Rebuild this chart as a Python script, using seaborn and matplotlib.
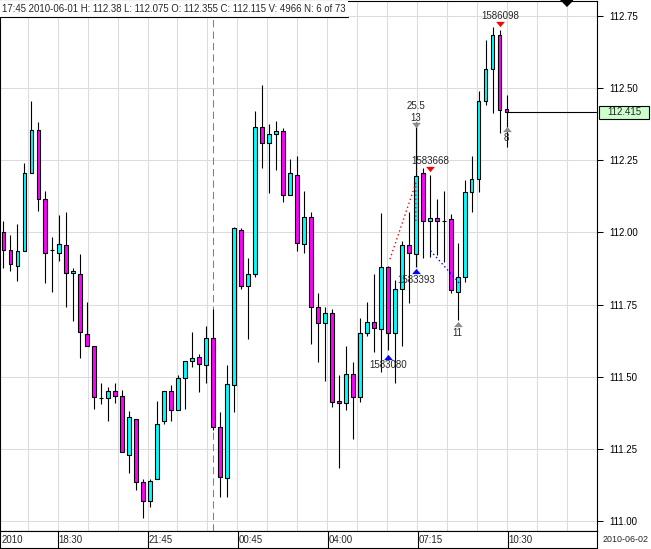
import numpy as np
import pandas as pd
import seaborn as sns
import matplotlib.pyplot as plt
from matplotlib.patches import Rectangle
import matplotlib.transforms as mtransforms

# 15 minute bars, 2010-06-01 16:30 -> 2010-06-02 10:30 (73 bars)
opens = [112.000, 111.938, 111.882, 111.934, 112.205, 112.355, 112.115, 111.937, 111.927, 111.955,
         111.858, 111.855, 111.649, 111.605, 111.426, 111.426, 111.450, 111.434, 111.228, 111.353,
         111.135, 111.069, 111.145, 111.346, 111.450, 111.384, 111.495, 111.553, 111.567, 111.540,
         111.633, 111.325, 111.149, 111.472, 112.007, 111.814, 111.856, 112.363, 112.309, 112.339,
         112.349, 112.128, 112.197, 111.958, 112.052, 111.740, 111.685, 111.720, 111.415, 111.408,
         111.509, 111.429, 111.650, 111.689, 111.667, 111.879, 111.653, 111.803, 111.957, 111.924,
         112.204, 112.039, 112.048, 112.039, 112.046, 111.792, 111.844, 112.138, 112.183, 112.454,
         112.564, 112.683, 112.425]
highs = [112.039, 111.991, 112.029, 112.240, 112.454, 112.380, 112.143, 111.984, 112.060, 112.069,
         111.875, 111.925, 111.759, 111.605, 111.479, 111.465, 111.479, 111.454, 111.383, 111.353,
         111.145, 111.145, 111.416, 111.450, 111.471, 111.506, 111.553, 111.655, 111.578, 111.676,
         111.733, 111.379, 111.541, 112.020, 112.014, 111.910, 112.420, 112.510, 112.375, 112.385,
         112.360, 112.252, 112.264, 112.143, 112.069, 111.789, 111.740, 111.734, 111.506, 111.607,
         111.550, 111.702, 111.758, 111.856, 112.066, 111.885, 111.835, 111.970, 112.070, 112.383,
         112.221, 112.198, 112.114, 112.143, 112.062, 111.964, 112.181, 112.265, 112.490, 112.665,
         112.712, 112.700, 112.475]
lows = [111.878, 111.866, 111.833, 111.934, 112.205, 112.075, 111.824, 111.792, 111.902, 111.743,
        111.694, 111.564, 111.605, 111.388, 111.406, 111.348, 111.408, 111.239, 111.168, 111.108,
        111.010, 111.048, 111.145, 111.336, 111.348, 111.384, 111.388, 111.533, 111.449, 111.477,
        111.316, 111.083, 111.085, 111.379, 111.803, 111.630, 111.844, 112.224, 112.137, 112.216,
        112.106, 112.128, 111.936, 111.927, 111.612, 111.552, 111.487, 111.394, 111.184, 111.385,
        111.284, 111.414, 111.642, 111.585, 111.518, 111.593, 111.477, 111.608, 111.754, 111.881,
        111.910, 111.916, 111.921, 111.898, 111.791, 111.697, 111.829, 112.071, 112.141, 112.440,
        112.412, 112.343, 112.296]
closes = [111.938, 111.889, 111.934, 112.205, 112.355, 112.115, 111.927, 111.937, 111.958, 111.858,
          111.866, 111.654, 111.605, 111.429, 111.426, 111.450, 111.434, 111.239, 111.360, 111.135,
          111.069, 111.138, 111.336, 111.450, 111.384, 111.495, 111.553, 111.564, 111.543, 111.633,
          111.325, 111.154, 111.474, 112.014, 111.814, 111.856, 112.365, 112.309, 112.339, 112.349,
          112.128, 112.204, 111.962, 112.052, 111.740, 111.685, 111.720, 111.414, 111.408, 111.509,
          111.429, 111.650, 111.689, 111.668, 111.879, 111.653, 111.803, 111.955, 111.927, 112.195,
          112.039, 112.048, 112.039, 112.039, 111.800, 111.844, 112.138, 112.184, 112.454, 112.564,
          112.683, 112.423, 112.415]

y_ticks = [111.00, 111.25, 111.50, 111.75, 112.00, 112.25, 112.50, 112.75]
time_labels = ["18:30", "21:45", "00:45", "04:00", "07:15", "10:30"]
day_break_bar = 30

# swing markers
red_top_bars = [61, 71]
red_top_prices = [112.219, 112.721]
red_top_labels = ["1583668", "1586098"]
blue_bot_bars = [55, 59]
blue_bot_prices = [111.570, 111.865]
blue_bot_labels = ["1583080", "1583393"]
gray_top_bars = [59]
gray_top_prices = [112.371]
gray_top_labels = [("13", "25.5")]
gray_bot_bars = [65, 72]
gray_bot_prices = [111.684, 112.358]
gray_bot_labels = ["11", "8"]
red_zz_x = [55.3, 59.0, 59.0]
red_zz_y = [111.907, 112.170, 112.032]
blue_zz_x = [61.1, 65.2]
blue_zz_y = [111.936, 111.825]

header = ("17:45 2010-06-01 H: 112.38 L: 112.075 O: 112.355 C: 112.115 "
          "V: 4966 N: 6 of 73")

sns.set_style("white")
plt.rcParams['font.family'] = ['Liberation Sans', 'DejaVu Sans']

W, H = 651, 549
fig = plt.figure(figsize=(W / 100, H / 100), dpi=100)
ax = fig.add_axes([0, 18 / H, 597 / W, 530 / H])
strip = fig.add_axes([0, 1 / H, 597 / W, 17 / H])

x = np.arange(len(opens))
o = np.array(opens)
c = np.array(closes)
xlim = (-0.471, 84.814)
ylim = (110.9664, 112.8003)

# grid every 30px, labels every 3rd gridline
grid_x = 3.486 + 30 / 7 * np.arange(20)
label_x = grid_x[1::3][:len(time_labels)]

ax.set_xlim(xlim)
ax.set_ylim(ylim)
ax.set_xticks(grid_x)
ax.tick_params(axis='x', length=0, labelbottom=False)
ax.yaxis.tick_right()
ax.set_yticks(y_ticks)
ax.set_yticklabels([f"{v:.2f}" for v in y_ticks])
ax.tick_params(axis='y', length=4.3, width=0.75, pad=4.3, labelsize=7, colors='black')
ax.grid(True, color='#dcdcdc', lw=0.75, zorder=0)
ax.set_axisbelow(True)
for s in ax.spines.values():
    s.set_color('black')
    s.set_linewidth(0.8)

ax.axvline(day_break_bar, color='#808080', lw=0.75, dashes=(7, 4), zorder=1.5)

# candles
body_colors = ['#00ffff' if cl >= op else '#ff00ff' for op, cl in zip(opens, closes)]
ax.vlines(x, lows, highs, color='black', lw=0.8, zorder=2)
ax.bar(x, np.abs(c - o), bottom=np.minimum(o, c), width=0.5, color=body_colors,
       edgecolor='black', linewidth=0.8, zorder=3)

# zigzag dotted lines
ax.plot(red_zz_x, red_zz_y, color='red', lw=1.0, ls=(0, (1, 2)), zorder=4)
ax.plot(blue_zz_x, blue_zz_y, color='blue', lw=1.0, ls=(0, (1, 2)), zorder=4)

down_tri = [(-1, 0.6), (1, 0.6), (0, -0.6)]
up_tri = [(-1, -0.6), (1, -0.6), (0, 0.6)]
sns.scatterplot(x=red_top_bars, y=red_top_prices, marker=down_tri, color='#ff0000',
                s=40, linewidth=0, ax=ax, zorder=5)
sns.scatterplot(x=blue_bot_bars, y=blue_bot_prices, marker=up_tri, color='#0000ff',
                s=40, linewidth=0, ax=ax, zorder=5)
sns.scatterplot(x=gray_top_bars, y=gray_top_prices, marker=down_tri, color='#8c8c8c',
                s=40, linewidth=0, ax=ax, zorder=5)
sns.scatterplot(x=gray_bot_bars, y=gray_bot_prices, marker=up_tri, color='#8c8c8c',
                s=40, linewidth=0, ax=ax, zorder=5)

fs = 7
for b, p, lab in zip(red_top_bars, red_top_prices, red_top_labels):
    ax.annotate(lab, (b, p), xytext=(0.5, 5.5), textcoords='offset points',
                ha='center', va='center', fontsize=fs, zorder=6)
for b, p, lab in zip(blue_bot_bars, blue_bot_prices, blue_bot_labels):
    ax.annotate(lab, (b, p), xytext=(0, -6.3), textcoords='offset points',
                ha='center', va='center', fontsize=fs, zorder=6)
for b, p, (l1, l2) in zip(gray_top_bars, gray_top_prices, gray_top_labels):
    ax.annotate(l1, (b, p), xytext=(0, 5.4), textcoords='offset points',
                ha='center', va='center', fontsize=fs, zorder=6)
    ax.annotate(l2, (b, p), xytext=(0, 14), textcoords='offset points',
                ha='center', va='center', fontsize=fs, zorder=6)
for b, p, lab in zip(gray_bot_bars, gray_bot_prices, gray_bot_labels):
    ax.annotate(lab, (b, p), xytext=(0, -6.5), textcoords='offset points',
                ha='center', va='center', fontsize=fs, zorder=6)

# last price line and tag
last = closes[-1]
ax.plot([x[-1], xlim[1]], [last, last], color='black', lw=0.8, zorder=4)
blend = mtransforms.blended_transform_factory(ax.transAxes, ax.transData)
px_y = (ylim[1] - ylim[0]) / 530
ax.add_patch(Rectangle((1 + 2 / 597, last - 6.5 * px_y), 50 / 597, 13 * px_y,
                       transform=blend, facecolor='#ccffcc', edgecolor='black',
                       lw=0.8, clip_on=False, zorder=6))
ax.text(1 + 27 / 597, last, f"{last:.3f}", transform=blend, ha='center', va='center',
        fontsize=fs, zorder=7, clip_on=False)

# current bar marker on top edge
top_blend = mtransforms.blended_transform_factory(ax.transData, ax.transAxes)
ax.plot([80.5], [1 - 2 / 530], marker=[(-1, 0.5), (1, 0.5), (0, -0.5)], markersize=8.6,
        color='black', transform=top_blend, clip_on=False, zorder=7)

# header info box
ax.add_patch(Rectangle((0, 1 - 16 / 530), 348 / 597, 16 / 530, transform=ax.transAxes,
                       facecolor='white', edgecolor='none', zorder=5))
ax.plot([0, 348 / 597], [1 - 16 / 530] * 2, transform=ax.transAxes, color='black',
        lw=0.8, zorder=6)
ax.text(2 / 597, 1 - 8 / 530, header, transform=ax.transAxes, ha='left', va='center',
        fontsize=6.9, zorder=7)

# time strip
strip.set_xlim(xlim)
strip.set_ylim(0, 1)
strip.set_xticks([])
strip.set_yticks([])
for s in strip.spines.values():
    s.set_color('black')
    s.set_linewidth(0.8)
for pos, lab in zip(label_x, time_labels):
    strip.axvline(pos, color='black', lw=0.8)
    strip.text(pos + 0.15, 0.45, lab, ha='left', va='center', fontsize=fs)
strip.text(xlim[0] + 0.2, 0.45, "2010", ha='left', va='center', fontsize=fs)
fig.text(649 / W, 9 / H, "2010-06-02", ha='right', va='center', fontsize=6.4)

fig.savefig("out.png", dpi=100)
